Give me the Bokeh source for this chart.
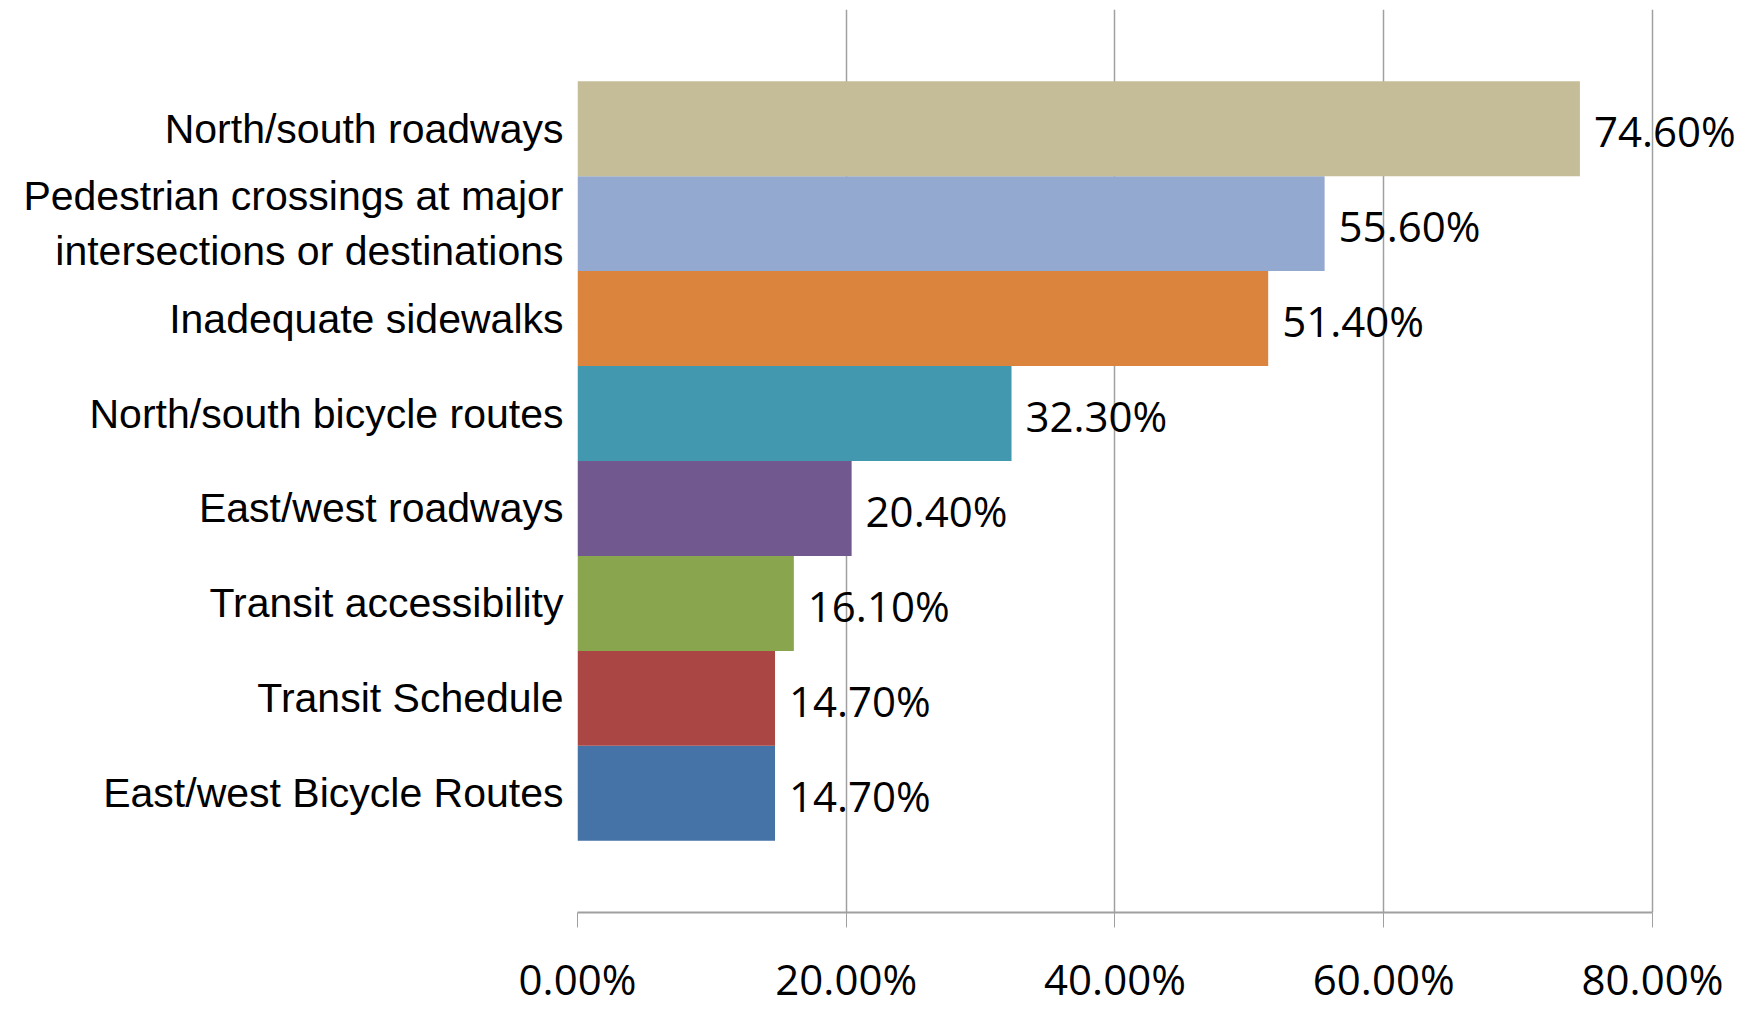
from bokeh.plotting import figure
from bokeh.models import ColumnDataSource, FactorRange, Range1d, FixedTicker, PrintfTickFormatter, LabelSet
from bokeh.core.properties import value
from bokeh.embed import file_html
from bokeh.resources import INLINE

# Data (bottom to top)
categories = [
    "East/west Bicycle Routes",
    "Transit Schedule",
    "Transit accessibility",
    "East/west roadways",
    "North/south bicycle routes",
    "Inadequate sidewalks",
    "Pedestrian crossings at major\nintersections or destinations",
    "North/south roadways",
]
values = [14.7, 14.7, 16.1, 20.4, 32.3, 51.4, 55.6, 74.6]
colors = ["#4572A7", "#AA4643", "#89A54E", "#71588F", "#4198AF", "#DB843D", "#93A9CF", "#C4BD97"]
x_ticks = [0, 20, 40, 60, 80]

labels = ["%.2f%%" % v for v in values]
source = ColumnDataSource(dict(cat=categories, val=values, color=colors, label=labels))

p = figure(
    width=1740, height=1009,
    y_range=FactorRange(factors=categories, range_padding=0.755, range_padding_units="absolute"),
    x_range=Range1d(0, 86.55),
    output_backend="svg", toolbar_location=None,
    min_border_left=577, min_border_right=0, min_border_top=9, min_border_bottom=97,
)
p.outline_line_color = None

p.hbar(y="cat", right="val", left=0, height=1.0, fill_color="color", line_color=None, source=source)

p.add_layout(LabelSet(x="val", y="cat", text="label", source=source, x_offset=14, y_offset=-2,
                      text_baseline="middle", text_align="left", text_font=value("Open Sans"),
                      text_font_size="42px", text_color="#000000"))

# x axis
p.xaxis.ticker = FixedTicker(ticks=x_ticks)
p.xaxis.formatter = PrintfTickFormatter(format="%.2f%%")
p.xaxis.bounds = (0, 80)
p.xaxis.major_label_text_font = "Open Sans"
p.xaxis.major_label_text_font_size = "42px"
p.xaxis.major_label_text_color = "#000000"
p.xaxis.axis_line_color = "#A0A0A0"
p.xaxis.axis_line_width = 2
p.xaxis.major_tick_line_color = "#A0A0A0"
p.xaxis.major_tick_in = 0
p.xaxis.major_tick_out = 15
p.xaxis.minor_tick_line_color = None
p.xaxis.major_label_standoff = 22

# y axis
p.yaxis.axis_line_color = None
p.yaxis.major_tick_line_color = None
p.yaxis.minor_tick_line_color = None
p.yaxis.major_label_text_font = "Liberation Sans"
p.yaxis.major_label_text_font_size = "41px"
p.yaxis.major_label_text_color = "#000000"
p.yaxis.major_label_standoff = 8

p.xgrid.ticker = FixedTicker(ticks=x_ticks)
p.xgrid.bounds = (0, 80)
p.xgrid.grid_line_color = "#A0A0A0"
p.xgrid.grid_line_width = 1.5
p.ygrid.grid_line_color = None

open("out.html", "w").write(file_html(p, INLINE))
